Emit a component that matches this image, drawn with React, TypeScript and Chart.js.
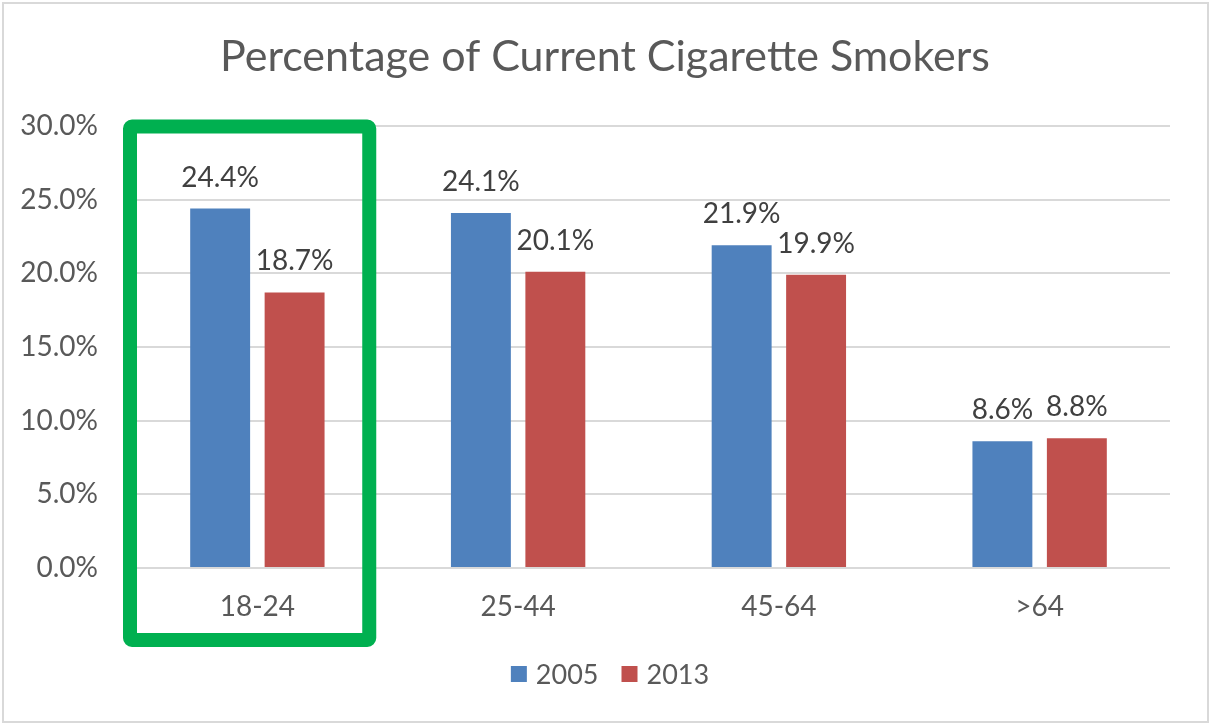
import React, { useEffect, useRef } from 'react';
import { Chart, registerables } from 'chart.js';

Chart.register(...registerables);

const categories = ['18-24', '25-44', '45-64', '>64'];
const seriesLabels = ['2005', '2013'];
const values2005 = [24.4, 24.1, 21.9, 8.6];
const values2013 = [18.7, 20.1, 19.9, 8.8];
const seriesColors = ['#4F81BD', '#C0504D'];
const titleText = 'Percentage of Current Cigarette Smokers';
const yMin = 0;
const yMax = 30;
const yStep = 5;
const highlightedCategory = 0;

const FONT = 'Lato, "Open Sans", sans-serif';
const W = 1213;
const H = 728;

const decorPlugin = {
  id: 'decor',
  beforeDraw(chart: any) {
    const ctx = chart.ctx;
    ctx.save();
    ctx.fillStyle = '#ffffff';
    ctx.fillRect(0, 0, chart.width, chart.height);
    ctx.restore();
  },
  afterDatasetsDraw(chart: any) {
    const ctx = chart.ctx;
    ctx.save();
    ctx.font = `28px ${FONT}`;
    ctx.fillStyle = '#404040';
    ctx.textAlign = 'center';
    ctx.textBaseline = 'alphabetic';
    chart.data.datasets.forEach((ds: any, di: number) => {
      const meta = chart.getDatasetMeta(di);
      meta.data.forEach((bar: any, i: number) => {
        const v = ds.data[i];
        ctx.fillText(v.toFixed(1) + '%', bar.x, bar.y - 22);
      });
    });
    ctx.restore();
  },
  afterDraw(chart: any) {
    const ctx = chart.ctx;
    const area = chart.chartArea;
    const xs = chart.scales.x;
    ctx.save();
    // title
    ctx.font = `43px ${FONT}`;
    ctx.fillStyle = '#595959';
    ctx.textAlign = 'center';
    ctx.textBaseline = 'alphabetic';
    ctx.fillText(titleText, 605, 71);

    // legend
    ctx.font = `27px ${FONT}`;
    const box = 16;
    const gapText = 9;
    const gapItem = 23;
    const widths = seriesLabels.map((l) => ctx.measureText(l).width);
    const total = widths.reduce((a, w) => a + box + gapText + w, 0) + gapItem * (seriesLabels.length - 1);
    let lx = 610 - total / 2;
    const ly = 674;
    ctx.textAlign = 'left';
    ctx.textBaseline = 'middle';
    seriesLabels.forEach((l, i) => {
      ctx.fillStyle = seriesColors[i];
      ctx.fillRect(lx, ly - box / 2, box, box);
      ctx.fillStyle = '#595959';
      ctx.fillText(l, lx + box + gapText, ly + 1);
      lx += box + gapText + widths[i] + gapItem;
    });

    // highlight box around first category
    const catW = (area.right - area.left) / categories.length;
    const cx = xs.getPixelForValue(highlightedCategory);
    const left = cx - catW / 2 + 3;
    const right = cx + catW / 2 - 18.5;
    const top = area.top + 0.5;
    const bottom = area.bottom + 72;
    ctx.strokeStyle = '#00B050';
    ctx.lineWidth = 14;
    ctx.lineJoin = 'round';
    ctx.beginPath();
    (ctx as any).roundRect(left, top, right - left, bottom - top, 2);
    ctx.stroke();

    // outer border
    ctx.strokeStyle = '#D9D9D9';
    ctx.lineWidth = 2;
    ctx.lineJoin = 'miter';
    ctx.strokeRect(3, 3, 1205, 719);
    ctx.restore();
  },
};

export default function App() {
  const ref = useRef<HTMLCanvasElement | null>(null);
  useEffect(() => {
    if (!ref.current) return;
    const chart = new Chart(ref.current, {
      type: 'bar',
      data: {
        labels: categories,
        datasets: [
          {
            label: seriesLabels[0],
            data: values2005,
            backgroundColor: seriesColors[0],
            categoryPercentage: 0.571,
            barPercentage: 0.805,
          },
          {
            label: seriesLabels[1],
            data: values2013,
            backgroundColor: seriesColors[1],
            categoryPercentage: 0.571,
            barPercentage: 0.805,
          },
        ],
      },
      options: {
        responsive: false,
        animation: false,
        devicePixelRatio: 1,
        layout: { padding: { top: 126, left: 0, right: W - 1170, bottom: 0 } },
        plugins: {
          legend: { display: false },
          title: { display: false },
          tooltip: { enabled: false },
        },
        scales: {
          x: {
            grid: { display: false, drawTicks: false },
            border: { display: false },
            ticks: {
              color: '#595959',
              font: { family: FONT, size: 28 },
              padding: 22,
            },
            afterFit(scale: any) {
              scale.height = H - 568;
            },
          },
          y: {
            min: yMin,
            max: yMax,
            grid: { color: '#D9D9D9', lineWidth: 2, drawTicks: false },
            border: { display: false },
            ticks: {
              stepSize: yStep,
              color: '#595959',
              font: { family: FONT, size: 28 },
              padding: 29,
              callback: (v: any) => Number(v).toFixed(1) + '%',
            },
            afterFit(scale: any) {
              scale.width = 127;
            },
          },
        },
      },
      plugins: [decorPlugin],
    });
    return () => chart.destroy();
  }, []);
  return (
    <div style={{ position: 'fixed', left: 0, top: 0, width: W, height: H, background: '#fff' }}>
      <canvas ref={ref} width={W} height={H} style={{ width: W, height: H, display: 'block' }} />
    </div>
  );
}
